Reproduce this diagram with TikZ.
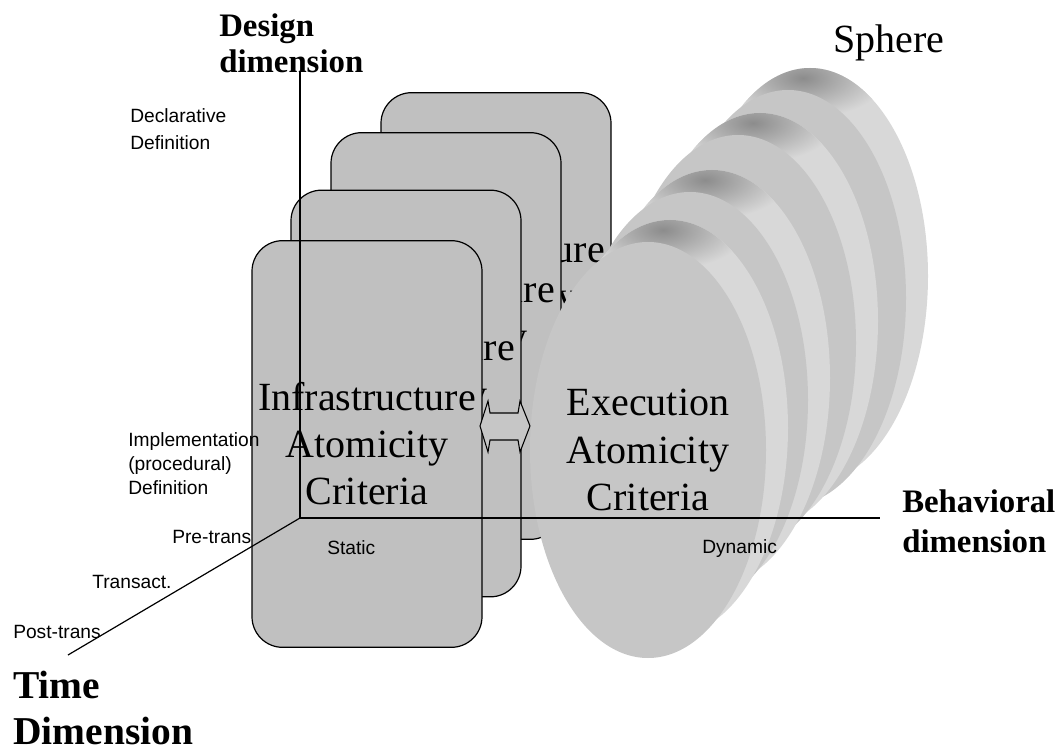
\documentclass[tikz,border=0pt]{standalone}
\usepackage{fontspec}
\setmainfont{Liberation Serif}
\setsansfont{Liberation Sans}
\usetikzlibrary{shapes.geometric}
\definecolor{boxfill}{HTML}{C0C0C0}
\definecolor{facecol}{HTML}{C6C6C6}
\definecolor{rimcol}{HTML}{D8D8D8}
\definecolor{capcol}{HTML}{8C8C8C}
\newcommand\discrim[2]{%
  \fill[rimcol] ({#1+22},{#2-22}) ellipse [x radius=88.5pt, y radius=156pt];
  \begin{scope}
    \clip ({#1+22},{#2-22}) ellipse [x radius=88.5pt, y radius=156pt];
    \shade[inner color=capcol, outer color=rimcol] ({#1+15},{#2-220}) ellipse [x radius=62pt, y radius=30pt];
  \end{scope}}
\begin{document}
\begin{tikzpicture}[x=0.75pt,y=-0.75pt,
  layerbox/.style={draw=black, line width=0.9pt, fill=boxfill, rounded corners=23pt,
    minimum width=172.5pt, minimum height=305pt, inner sep=0pt, align=center,
    font=\fontsize{30}{35.25}\selectfont},
  discface/.style={ellipse, fill=facecol, minimum width=177pt, minimum height=312pt,
    inner sep=0pt, align=center, font=\fontsize{30}{35.5}\selectfont},
  axisline/.style={draw=black, line width=0.9pt},
  smalllabel/.style={font=\sffamily\fontsize{14.4}{17}\selectfont, inner sep=0pt, anchor=base west},
  dimlabel/.style={font=\bfseries\fontsize{24.6}{28}\selectfont, inner sep=0pt, anchor=base west},
  timelabel/.style={font=\bfseries\fontsize{29.6}{34}\selectfont, inner sep=0pt, anchor=base west}]
\useasboundingbox (0,0) rectangle (1060,752);
\fill[white] (0,0) rectangle (1060,752);

% layer 4 (back)
\node[layerbox] (r4) at (496,296) {Infrastructure\\Atomicity\\Criteria};
\discrim{788}{298}
\node[discface] (e4) at (788,298) {};
% layer 3
\node[layerbox] (r3) at (446,336) {Infrastructure\\Atomicity\\Criteria};
\discrim{738}{343}
\node[discface] (e3) at (738,343) {};
% layer 2
\node[layerbox] (r2) at (406,393.5) {Infrastructure\\Atomicity\\Criteria};
\discrim{690}{400}
\node[discface] (e2) at (690,400) {};
% layer 1 (front)
\node[layerbox] (r1) at (367,444) {Infrastructure\\Atomicity\\Criteria};
\draw[line width=0.8pt, fill=facecol] (480,426) -- (488,401) -- (490,413) -- (518,413) -- (520,401)
  -- (530,426) -- (520,452) -- (518,440) -- (490,440) -- (488,452) -- cycle;
\discrim{648}{450}
\node[discface] (e1) at (648,450) {Execution\\Atomicity\\Criteria};

% axes
\coordinate (o) at (300,518);
\coordinate (dtop) at (300,72);
\coordinate (bend) at (880,518);
\coordinate (tend) at (68,655);
\draw[axisline] (o) -- (dtop);
\draw[axisline] (o) -- (bend);
\draw[axisline] (o) -- (tend);

% labels
\node[dimlabel] (d1) at (219,37) {Design};
\node[dimlabel] (d2) at (219,73) {dimension};
\node[smalllabel] (l1) at (130,123) {Declarative};
\node[smalllabel] (l2) at (130,150) {Definition};
\node[smalllabel] (l3) at (128,446) {Implementation};
\node[smalllabel] (l4) at (128,470) {(procedural)};
\node[smalllabel] (l5) at (128,494) {Definition};
\node[smalllabel] (l6) at (172,543) {Pre-trans};
\node[smalllabel] (l7) at (92,588) {Transact.};
\node[smalllabel] (l8) at (13,638) {Post-trans};
\node[smalllabel] (l9) at (327,554) {Static};
\node[smalllabel] (l10) at (702,553) {Dynamic};
\node[timelabel] (t1) at (13,698) {Time};
\node[timelabel] (t2) at (13,744) {Dimension};
\node[dimlabel] (b1) at (902,512) {Behavioral};
\node[dimlabel] (b2) at (902,552) {dimension};
\node[font=\fontsize{30}{35}\selectfont, inner sep=0pt, anchor=base west] (sph) at (833,53) {Sphere};
\end{tikzpicture}
\end{document}
